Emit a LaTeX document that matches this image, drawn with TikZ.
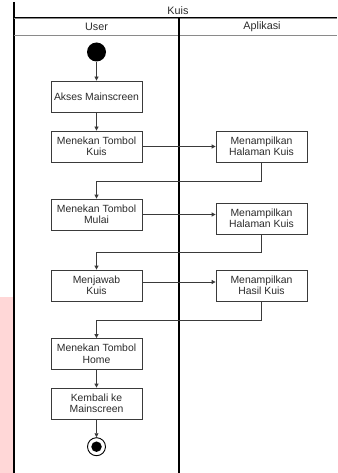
\documentclass[tikz,border=0pt]{standalone}
\usepackage{fontspec}
\setmainfont{Liberation Sans}
\usetikzlibrary{arrows.meta}
\definecolor{inkc}{HTML}{2B2B2B}
\definecolor{edgec}{HTML}{3A3A3A}
\definecolor{rowline}{HTML}{8A8A8A}
\definecolor{pinkbg}{HTML}{FFD7D7}
\tikzset{
  actbox/.style={draw=edgec, line width=0.8pt, fill=white, minimum width=91pt,
    minimum height=31pt, inner sep=1pt, align=center, text=inkc,
    font=\fontsize{10.4pt}{11.5pt}\selectfont},
  flow/.style={draw=edgec, line width=0.8pt, -{Triangle[length=4pt,width=4pt]}},
  lanehead/.style={text=inkc, font=\fontsize{10.8pt}{12pt}\selectfont},
  laneline/.style={line width=1.5pt, black}
}
\begin{document}
\begin{tikzpicture}[x=1pt, y=-1pt]
  \useasboundingbox (0,0) rectangle (337,473);
  % strip at the far left
  \fill[pinkbg] (0,297) rectangle (13.3,473);

  % swimlane frame
  \draw[laneline] (14,2) -- (14,473);
  \draw[line width=1.2pt, black] (14,17.3) -- (337,17.3);
  \draw[line width=1pt, rowline] (14,18.8) -- (337,18.8);
  \draw[line width=1.5pt, rowline] (14,35.3) -- (337,35.3);
  \draw[laneline] (178.8,17.3) -- (178.8,473);

  \node[lanehead] (title) at (178,10.5) {Kuis};
  \node[lanehead] (laneU) at (96.5,26.5) {User};
  \node[lanehead] (laneA) at (262,26.5) {Aplikasi};

  % start and end
  \node[circle, fill=black, minimum size=19pt, inner sep=0pt] (start) at (96.5,52) {};
  \node[circle, draw=black, line width=0.9pt, fill=white, minimum size=18pt, inner sep=0pt] (end) at (96.5,446.7) {};
  \node[circle, fill=black, minimum size=10.5pt, inner sep=0pt] (endcore) at (end.center) {};

  % actions
  \node[actbox] (akses) at (96.5,96.5) {Akses Mainscreen};
  \node[actbox] (kuis) at (96.5,146.5) {Menekan Tombol\\Kuis};
  \node[actbox] (hk1) at (261.5,146.5) {Menampilkan\\Halaman Kuis};
  \node[actbox] (mulai) at (96.5,214.5) {Menekan Tombol\\Mulai};
  \node[actbox] (hk2) at (261.5,218.5) {Menampilkan\\Halaman Kuis};
  \node[actbox] (jawab) at (96.5,285.5) {Menjawab\\Kuis};
  \node[actbox] (hasil) at (261.5,285.5) {Menampilkan\\Hasil Kuis};
  \node[actbox] (home) at (96.5,354) {Menekan Tombol\\Home};
  \node[actbox] (kembali) at (96.5,403.5) {Kembali ke\\Mainscreen};

  % flow
  \draw[flow] (start) -- (akses);
  \draw[flow] (akses) -- (kuis);
  \draw[flow] (kuis.east) -- (kuis.east -| hk1.west);
  \draw[flow] (hk1.south) -- ++(0,19) -| (mulai.north);
  \draw[flow] (mulai.east) -- (mulai.east -| hk2.west);
  \draw[flow] (hk2.south) -- ++(0,18) -| (jawab.north);
  \draw[flow] ([yshift=3.5pt]jawab.east) -- ([yshift=3.5pt]jawab.east -| hasil.west);
  \draw[flow] (hasil.south) -- ++(0,19) -| (home.north);
  \draw[flow] (home) -- (kembali);
  \draw[flow] (kembali) -- (end);
\end{tikzpicture}
\end{document}
